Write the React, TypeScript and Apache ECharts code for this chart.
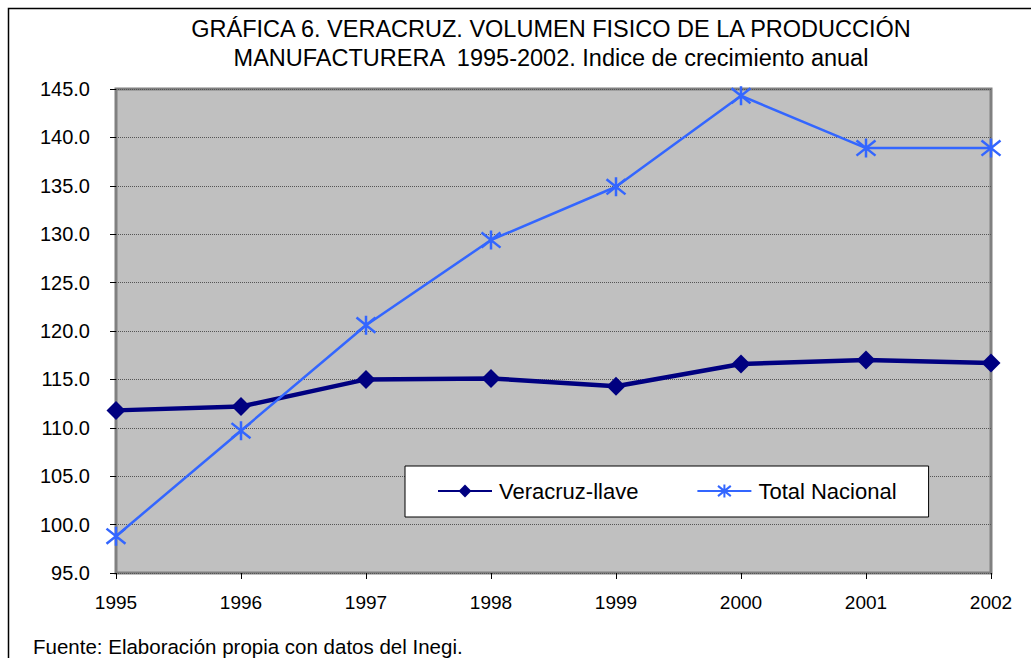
import React, { useEffect, useRef } from "react";
import * as echarts from "echarts";

const years = ["1995", "1996", "1997", "1998", "1999", "2000", "2001", "2002"];
const veracruz = [111.8, 112.2, 115.0, 115.1, 114.3, 116.6, 117.0, 116.7];
const nacional = [98.8, 109.7, 120.6, 129.4, 134.9, 144.3, 138.9, 138.9];
const titleLines = [
  "GRÁFICA 6. VERACRUZ. VOLUMEN FISICO DE LA PRODUCCIÓN",
  "MANUFACTURERA  1995-2002. Indice de crecimiento anual",
];
const seriesNames = ["Veracruz-llave", "Total Nacional"];
const footer = "Fuente: Elaboración propia con datos del Inegi.";

const FONT = "'Liberation Sans', Arial, sans-serif";
const ASTERISK = "path://M10,0L10,20M2,2L18,18M2,18L18,2";

export default function App() {
  const ref = useRef<HTMLDivElement>(null);
  useEffect(() => {
    if (!ref.current) return;
    const chart = echarts.init(ref.current, undefined, { renderer: "svg" });
    chart.setOption({
      animation: false,
      backgroundColor: "#ffffff",
      textStyle: { fontFamily: FONT },
      title: {
        text: titleLines.join("\n"),
        left: 546,
        top: 9,
        textAlign: "center",
        textStyle: {
          fontFamily: FONT,
          fontSize: 23.5,
          fontWeight: "normal",
          color: "#000",
          lineHeight: 29,
        },
      },
      grid: {
        left: 116,
        right: 40,
        top: 89,
        bottom: 85,
        show: true,
        backgroundColor: "#c0c0c0",
        borderColor: "#808080",
        borderWidth: 3,
      },
      xAxis: {
        type: "category",
        data: years,
        boundaryGap: false,
        axisLine: { show: false },
        axisTick: { show: true, length: 6, lineStyle: { color: "#000", width: 1 } },
        axisLabel: { color: "#000", fontSize: 19, fontFamily: FONT, margin: 20 },
        splitLine: { show: false },
      },
      yAxis: {
        type: "value",
        min: 95,
        max: 145,
        interval: 5,
        axisLine: { show: false },
        axisTick: { show: true, length: 6, lineStyle: { color: "#000", width: 1 } },
        axisLabel: {
          color: "#000",
          fontSize: 20,
          fontFamily: FONT,
          margin: 26,
          formatter: (v: number) => v.toFixed(1),
        },
        splitLine: { show: true, lineStyle: { color: "#555", type: "dotted", width: 1 } },
      },
      legend: {
        left: 405,
        top: 466,
        orient: "horizontal",
        backgroundColor: "#ffffff",
        borderColor: "#000",
        borderWidth: 1,
        borderRadius: 0,
        padding: [14, 32, 15, 32],
        itemGap: 58,
        itemWidth: 54,
        itemHeight: 16,
        textStyle: { color: "#000", fontSize: 22, fontFamily: FONT, padding: [0, 0, 0, 2] },
        data: seriesNames,
      },
      series: [
        {
          name: seriesNames[0],
          type: "line",
          data: veracruz,
          color: "#000080",
          lineStyle: { color: "#000080", width: 4.5 },
          symbol: "diamond",
          symbolSize: 19,
          itemStyle: { color: "#000080" },
          z: 3,
        },
        {
          name: seriesNames[1],
          type: "line",
          data: nacional,
          color: "#3366ff",
          lineStyle: { color: "#3366ff", width: 2.5 },
          symbol: ASTERISK,
          symbolSize: 19,
          itemStyle: { color: "#3366ff", borderColor: "#3366ff", borderWidth: 2.5 },
          z: 4,
        },
      ],
      graphic: [
        {
          type: "rect",
          shape: { x: 8.5, y: 8.5, width: 1100, height: 800 },
          style: { fill: "none", stroke: "#000", lineWidth: 1.5 },
          silent: true,
        },
        {
          type: "text",
          left: 33,
          top: 636,
          style: { text: footer, fontSize: 20.5, fontFamily: FONT, fill: "#000" },
        },
      ],
    });
    return () => chart.dispose();
  }, []);
  return (
    <div
      ref={ref}
      style={{ position: "fixed", left: 0, top: 0, width: 1031, height: 658 }}
    />
  );
}
